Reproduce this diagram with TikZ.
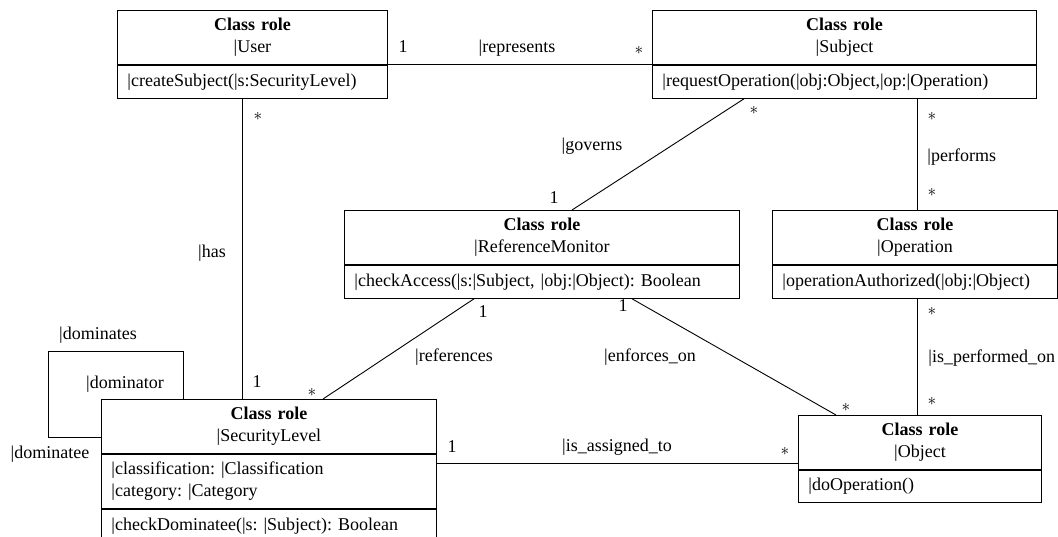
\documentclass[tikz,border=0pt]{standalone}
\usepackage{fontspec}
\setmainfont{LiberationSerif}[Extension=.ttf, UprightFont=*-Regular, BoldFont=*-Bold]
\usetikzlibrary{calc}
\frenchspacing
\begin{document}
\begin{tikzpicture}[x=1pt,y=-1pt, line width=0.9pt,
  comp/.style={draw, anchor=north west, inner xsep=10pt, inner ysep=0pt,
    font=\fontsize{18}{22}\selectfont},
  hdr/.style={comp, align=center, minimum height=54},
  body/.style={comp, align=left, minimum height=33},
  lab/.style={inner sep=0pt, font=\fontsize{18}{22}\selectfont, text height=13pt, text depth=4pt},
  many/.style={inner sep=0pt, font=\fontsize{17}{17}\selectfont}
]
\useasboundingbox (0,0) rectangle (1058,536);
\clip (0,0) rectangle (1058,536);

% User
\node[hdr, text width=250] (userH) at (117,10) {\textbf{Class role}\\|User};
\node[body, text width=250] (userO) at (userH.south west) {|createSubject(|s:SecurityLevel)};

% Subject
\node[hdr, text width=364] (subjH) at (652,10) {\textbf{Class role}\\|Subject};
\node[body, text width=364] (subjO) at (subjH.south west) {|requestOperation(|obj:Object,|op:|Operation)};

% ReferenceMonitor
\node[hdr, text width=375] (rmH) at (344,210) {\textbf{Class role}\\|ReferenceMonitor};
\node[body, text width=375] (rmO) at (rmH.south west) {|checkAccess(|s:|Subject, |obj:|Object): Boolean};

% Operation
\node[hdr, text width=265] (opH) at (772,210) {\textbf{Class role}\\|Operation};
\node[body, text width=265] (opO) at (opH.south west) {|operationAuthorized(|obj:|Object)};

% SecurityLevel
\node[hdr, text width=315] (slH) at (101,399) {\textbf{Class role}\\|SecurityLevel};
\node[comp, align=left, text width=315, minimum height=54] (slA) at (slH.south west)
  {|classification: |Classification\\|category: |Category};
\node[body, text width=315] (slO) at (slA.south west) {|checkDominatee(|s: |Subject): Boolean};

% Object
\node[hdr, text width=223] (objH) at (798,415) {\textbf{Class role}\\|Object};
\node[body, text width=223, minimum height=32] (objO) at (objH.south west) {|doOperation()};

% associations
\draw (userH.south east) -- (subjH.south west);
\draw ($(userO.south west)+(125,0)$) -- ($(slH.north west)+(141,0)$);
\draw ($(subjO.south west)+(92,0)$) -- ($(rmH.north west)+(228,0)$);
\draw ($(subjO.south west)+(265,0)$) -- ($(opH.north west)+(145,0)$);
\draw ($(opO.south west)+(145,0)$) -- ($(objH.north west)+(119,0)$);
\draw ($(rmO.south west)+(130,0)$) -- ($(slH.north west)+(222,0)$);
\draw ($(rmO.south west)+(288,0)$) -- ($(objH.north west)+(38,0)$);
\draw ($(slA.north east)+(0,10)$) coordinate (iaA) -- (iaA -| objH.west);
\draw ($(slH.north west)+(82,0)$) -- ++(0,-48) -| ++(-135,86) -- ($(slH.north west)+(0,38)$);

% association labels
\node[lab] (rep1) at (403,48) {1};
\node[lab] (repN) at (517,48) {|represents};
\node[many] (repM) at (639,50) {$\ast$};

\node[many] (hasM) at (258,116) {$\ast$};
\node[lab] (hasN) at (212,253) {|has};
\node[lab] (has1) at (257,383) {1};

\node[many] (govM) at (754,110) {$\ast$};
\node[lab] (govN) at (592,146) {|governs};
\node[lab] (gov1) at (554,199) {1};

\node[many] (perfM1) at (932,116) {$\ast$};
\node[lab, anchor=west] (perfN) at (927,157) {|performs};
\node[many] (perfM2) at (932,192) {$\ast$};

\node[many] (ipoM1) at (932,311) {$\ast$};
\node[lab, anchor=west] (ipoN) at (928,358) {|is\_performed\_on};
\node[many] (ipoM2) at (932,401) {$\ast$};

\node[lab] (ref1) at (483,313) {1};
\node[lab] (refN) at (454,357) {|references};
\node[many] (refM) at (312,392) {$\ast$};

\node[lab] (enf1) at (623,307) {1};
\node[lab] (enfN) at (650,357) {|enforces\_on};
\node[many] (enfM) at (846,407) {$\ast$};

\node[lab] (ia1) at (452,448) {1};
\node[lab] (iaN) at (617,447) {|is\_assigned\_to};
\node[many] (iaM) at (785,451) {$\ast$};

\node[lab] (domN) at (98,335) {|dominates};
\node[lab] (domR) at (125,384) {|dominator};
\node[lab] (domE) at (50,454) {|dominatee};
\end{tikzpicture}
\end{document}
